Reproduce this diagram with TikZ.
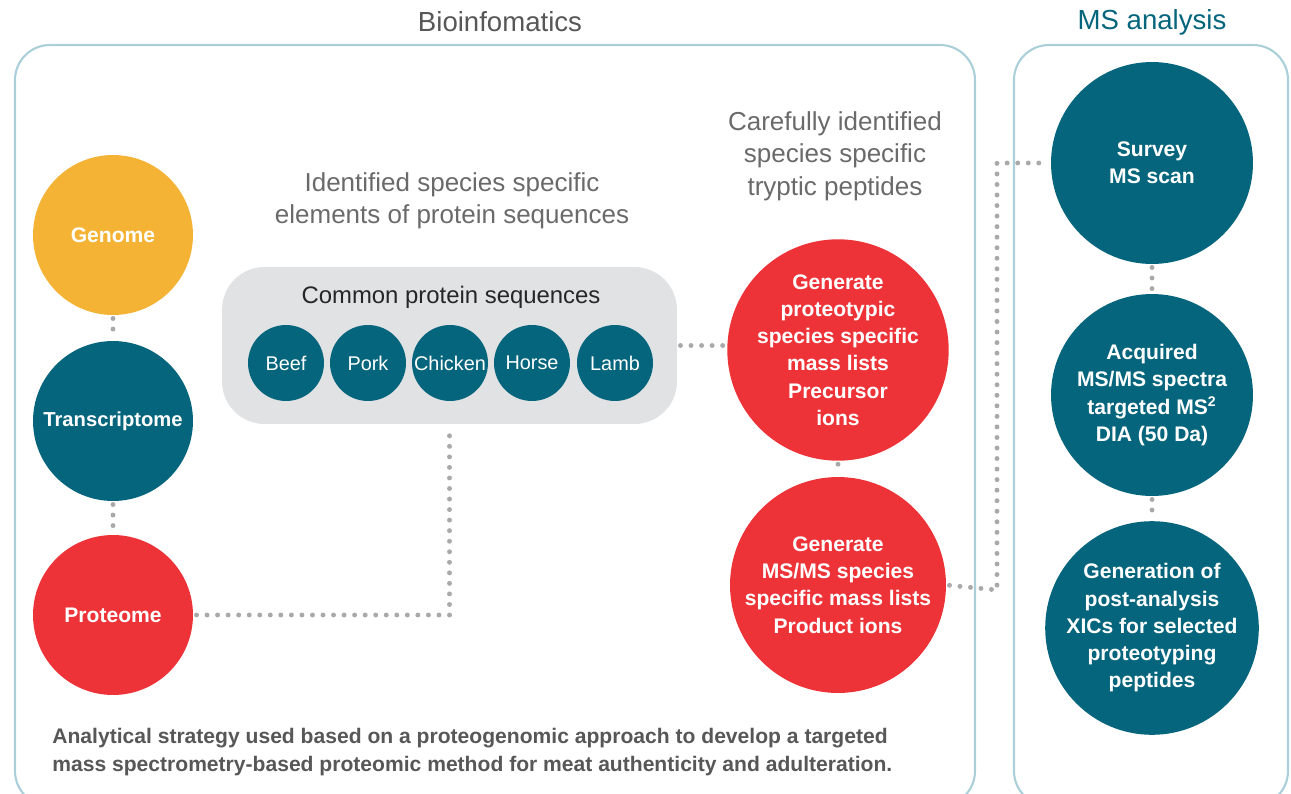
\documentclass[tikz,border=0pt]{standalone}
\usepackage{fontspec}
\setmainfont{Liberation Sans}
\usetikzlibrary{positioning}

\definecolor{tealdot}{HTML}{05657C}
\definecolor{orangedot}{HTML}{F5B335}
\definecolor{reddot}{HTML}{EE3338}
\definecolor{panelblue}{HTML}{AACFD9}
\definecolor{boxgray}{HTML}{E1E2E4}
\definecolor{dotgray}{HTML}{A9A9AB}
\definecolor{titlegray}{HTML}{575757}
\definecolor{notegray}{HTML}{6A6A6A}

\tikzstyle{panel} = [draw=panelblue, line width=1.2pt, rounded corners=0.7cm]
\tikzstyle{bigdot} = [circle, text=white, align=center, inner sep=0pt, font=\bfseries\fontsize{12}{15.5}\selectfont]
\tikzstyle{smalldot} = [circle, fill=tealdot, text=white, minimum size=1.52cm, inner sep=0pt, font=\fontsize{11.3}{13}\selectfont]
\tikzstyle{note} = [align=center, text=notegray, font=\fontsize{14.8}{18.4}\selectfont]
\tikzstyle{dots} = [draw=dotgray, line width=2.8pt, line cap=round, dash pattern=on 0pt off 6pt, shorten <=1.8pt, shorten >=1.8pt]

\begin{document}
\begin{tikzpicture}[x=0.02cm, y=-0.02cm]
    \useasboundingbox (0,0) rectangle (1291,794);
    % panels
    \draw[panel] (15,45) rectangle (975,806);
    \draw[panel] (1014,45) rectangle (1288,806);
    \node (biotitle) at (500,22) [text=titlegray, font=\fontsize{15.7}{19}\selectfont] {Bioinfomatics};
    \node (mstitle) at (1152,22) [text=tealdot, font=\fontsize{15.7}{19}\selectfont] {MS analysis};

    % omics column
    \node (genome) at (113,235) [bigdot, fill=orangedot, minimum size=3.2cm] {Genome};
    \node (transcriptome) at (113,421) [bigdot, fill=tealdot, minimum size=3.2cm, font=\bfseries\fontsize{11.5}{14}\selectfont] {Transcriptome};
    \node (proteome) at (113,615) [bigdot, fill=reddot, minimum size=3.2cm] {Proteome};

    % common sequences
    \node (elements) at (452,201) [note] {Identified species specific\\elements of protein sequences};
    \node (common) at (449.5,345.5) [fill=boxgray, rounded corners=0.85cm, minimum width=9.1cm, minimum height=3.14cm] {};
    \node (commonlabel) at (451,297) [text=black!85, font=\fontsize{13.6}{16}\selectfont] {Common protein sequences};
    \node (beef) at (286,363) [smalldot] {Beef};
    \node (pork) at (368,363) [smalldot] {Pork};
    \node (chicken) at (450,363) [smalldot] {Chicken};
    \node (horse) at (532,363) [smalldot] {Horse};
    \node (lamb) at (615,363) [smalldot] {Lamb};

    % peptides
    \node (peptides) at (835,156) [note] {Carefully identified\\species specific\\tryptic peptides};
    \node (precursor) at (838,350) [bigdot, fill=reddot, minimum size=4.32cm] {Generate\\proteotypic\\species specific\\mass lists\\Precursor\\ions};
    \node (product) at (838,585) [bigdot, fill=reddot, minimum size=4.32cm] {Generate\\MS/MS species\\specific mass lists\\Product ions};

    % MS analysis
    \node (survey) at (1152,163) [bigdot, fill=tealdot, minimum size=4.04cm] {Survey\\MS scan};
    \node (acquired) at (1152,395) [bigdot, fill=tealdot, minimum size=4.04cm] {Acquired\\MS/MS spectra\\targeted MS\textsuperscript{2}\\DIA (50 Da)};
    \node (xics) at (1152,628) [bigdot, fill=tealdot, minimum size=4.04cm] {Generation of\\post-analysis\\XICs for selected\\proteotyping\\peptides};

    \node (caption) at (52,752) [anchor=west, inner sep=0pt, align=left, text=titlegray, font=\bfseries\fontsize{12}{16}\selectfont] {Analytical strategy used based on a proteogenomic approach to develop a targeted\\mass spectrometry-based proteomic method for meat authenticity and adulteration.};

    % dotted connectors
    \coordinate (bend) at (997,590);
    \draw[dots] (genome) -- (transcriptome);
    \draw[dots] (transcriptome) -- (proteome);
    \draw[dots] (proteome.east) -| (common.south);
    \draw[dots] (common.east) -- (common.east -| precursor.west);
    \draw[dots] (precursor) -- (product);
    \draw[dots] (product.east) -- (bend) |- (survey.west);
    \draw[dots] (survey) -- (acquired);
    \draw[dots] (acquired) -- (xics);
\end{tikzpicture}
\end{document}
